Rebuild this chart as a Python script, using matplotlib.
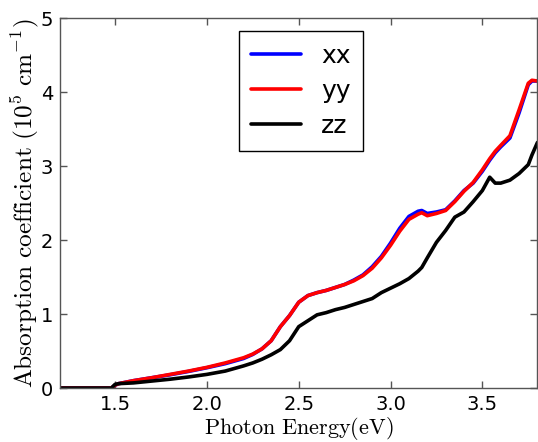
import matplotlib
matplotlib.use("Agg")
import matplotlib.pyplot as plt

energy = [1.20, 1.48, 1.50, 1.52, 1.60, 1.70, 1.80, 1.90, 2.00, 2.10, 2.20, 2.25,
          2.30, 2.35, 2.40, 2.45, 2.50, 2.55, 2.60, 2.65, 2.70, 2.75, 2.80, 2.85,
          2.90, 2.95, 3.00, 3.05, 3.10, 3.15, 3.17, 3.20, 3.25, 3.30, 3.35, 3.40,
          3.45, 3.50, 3.54, 3.57, 3.60, 3.65, 3.70, 3.75, 3.77, 3.80]

yy = [0.0, 0.0, 0.04, 0.06, 0.10, 0.14, 0.185, 0.23, 0.28, 0.34, 0.41, 0.46,
      0.53, 0.64, 0.83, 0.98, 1.16, 1.25, 1.29, 1.32, 1.36, 1.40, 1.45, 1.52,
      1.62, 1.76, 1.93, 2.12, 2.28, 2.35, 2.37, 2.33, 2.36, 2.40, 2.52, 2.66,
      2.78, 2.95, 3.10, 3.20, 3.28, 3.41, 3.76, 4.12, 4.16, 4.15]

xx = [0.0, 0.0, 0.04, 0.06, 0.10, 0.14, 0.18, 0.225, 0.275, 0.33, 0.40, 0.455,
      0.53, 0.64, 0.83, 0.98, 1.16, 1.25, 1.29, 1.32, 1.36, 1.40, 1.46, 1.53,
      1.64, 1.78, 1.96, 2.16, 2.32, 2.39, 2.40, 2.36, 2.38, 2.41, 2.53, 2.67,
      2.77, 2.93, 3.08, 3.18, 3.26, 3.38, 3.72, 4.10, 4.15, 4.15]

zz = [0.0, 0.0, 0.05, 0.06, 0.07, 0.095, 0.12, 0.15, 0.185, 0.23, 0.30, 0.34,
      0.39, 0.45, 0.52, 0.64, 0.83, 0.91, 0.99, 1.02, 1.06, 1.09, 1.13, 1.17,
      1.21, 1.29, 1.35, 1.41, 1.48, 1.58, 1.63, 1.76, 1.97, 2.13, 2.31, 2.38,
      2.52, 2.67, 2.85, 2.77, 2.77, 2.81, 2.90, 3.02, 3.15, 3.32]

xticks = [1.5, 2.0, 2.5, 3.0, 3.5]
yticks = [0, 1, 2, 3, 4, 5]
series_names = ["xx", "yy", "zz"]
series_colors = ["#0000ff", "#ff0000", "#000000"]

plt.rcParams['mathtext.fontset'] = 'cm'
plt.rcParams['font.family'] = ['DejaVu Sans']

fig = plt.figure(figsize=(5.38, 4.42), dpi=100)
ax = fig.add_axes([0.1115, 0.122, 0.8875, 0.837])

for vals, name, col in zip([xx, yy, zz], series_names, series_colors):
    ax.plot(energy, vals, color=col, lw=2.6, label=name, solid_capstyle='round')

ax.set_xlim(1.2, 3.8)
ax.set_ylim(0, 5)
ax.set_xticks(xticks)
ax.set_xticklabels([f"{t:.1f}" for t in xticks])
ax.set_yticks(yticks)
ax.set_yticklabels([str(t) for t in yticks])
ax.tick_params(direction='in', top=True, right=True, length=5, width=1,
               labelsize=14, pad=5, color='#555555')
for s in ax.spines.values():
    s.set_color('#555555')
    s.set_linewidth(1.0)

ax.set_xlabel(r'$\mathrm{Photon\ Energy(eV)}$', fontsize=16, labelpad=1)
ax.set_ylabel(r'$\mathrm{Absorption\ coefficient\ (10^5\ cm^{-1})}$', fontsize=18.2, labelpad=0)

leg = ax.legend(loc='upper left', bbox_to_anchor=(0.374, 0.965), borderaxespad=0,
                fontsize=18, fancybox=False, framealpha=1, edgecolor='black',
                handlelength=2.0, handletextpad=0.8, borderpad=0.5, labelspacing=0.45)
leg.get_frame().set_linewidth(1.0)

fig.savefig("out.png", dpi=100)
